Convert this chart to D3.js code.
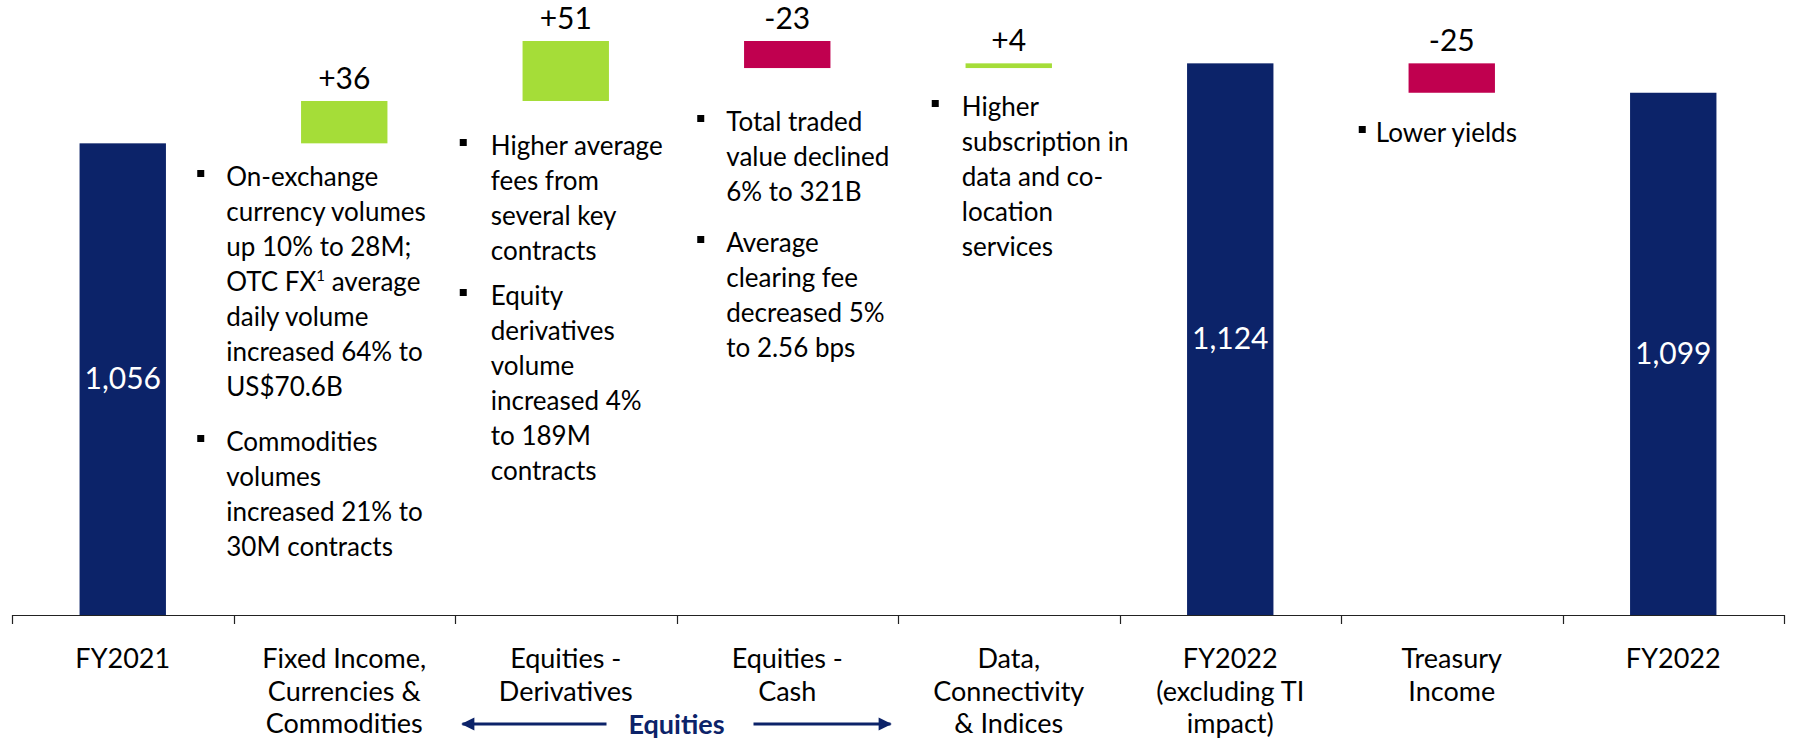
<!DOCTYPE html>
<html>
<head>
<meta charset="utf-8">
<script src="https://cdn.jsdelivr.net/npm/d3@7"></script>
<style>
  html, body { margin: 0; padding: 0; background: #fff; }
  svg { display: block; font-family: Lato, "Open Sans", sans-serif; }
</style>
</head>
<body>
<svg id="chart"></svg>
<script>
// data
const categories = ["FY2021", "Fixed Income, Currencies & Commodities", "Equities - Derivatives",
  "Equities - Cash", "Data, Connectivity & Indices", "FY2022 (excluding TI impact)", "Treasury Income", "FY2022"];
const categoryLines = [
  ["FY2021"],
  ["Fixed Income,", "Currencies &", "Commodities"],
  ["Equities -", "Derivatives"],
  ["Equities -", "Cash"],
  ["Data,", "Connectivity", "& Indices"],
  ["FY2022", "(excluding TI", "impact)"],
  ["Treasury", "Income"],
  ["FY2022"]
];
const values = [1056, 36, 51, -23, 4, 1124, -25, 1099];
const isTotal = [true, false, false, false, false, true, false, true];
const valueLabels = ["1,056", "+36", "+51", "-23", "+4", "1,124", "-25", "1,099"];

// bullet notes, per category index
const notes = [
  { cat: 1, paras: [
    ["On-exchange", "currency volumes", "up 10% to 28M;", "OTC FX|1| average", "daily volume", "increased 64% to", "US$70.6B"],
    ["Commodities", "volumes", "increased 21% to", "30M contracts"]] },
  { cat: 2, paras: [
    ["Higher average", "fees from", "several key", "contracts"],
    ["Equity", "derivatives", "volume", "increased 4%", "to 189M", "contracts"]] },
  { cat: 3, paras: [
    ["Total traded", "value declined", "6% to 321B"],
    ["Average", "clearing fee", "decreased 5%", "to 2.56 bps"]] },
  { cat: 4, paras: [
    ["Higher", "subscription in", "data and co-", "location", "services"]] },
  { cat: 6, paras: [
    ["Lower yields"]] }
];
const groupLabel = "Equities";

// layout
const W = 1793, H = 740;
const navy = "#0c2369", green = "#a5dd38", red = "#c0004f";
const baseY = 615;
const noteFont = 26, noteLine = 35;
// note layout: text offset from band centre, bullet gap, centre y of each paragraph's first line
const noteLayout = [
  { dx: -118, bullet: 29, ys: [177, 442] },
  { dx: -75, bullet: 31, ys: [146, 296] },
  { dx: -61, bullet: 29, ys: [122, 243] },
  { dx: -47, bullet: 30, ys: [107] },
  { dx: -76, bullet: 17, ys: [133] }
];

const svg = d3.select("#chart").attr("width", W).attr("height", H);

const x = d3.scaleBand().domain(categories).range([12, 1784]).paddingInner(0.61).paddingOuter(0.305);
const y = d3.scaleLinear().domain([655, 1143]).range([baseY, 41]);
const cx = i => x(categories[i]) + x.bandwidth() / 2;

// waterfall steps
let running = 0;
const bars = values.map((v, i) => {
  let lo, hi;
  if (isTotal[i]) { lo = y.domain()[0]; hi = v; running = v; }
  else { const start = running; running += v; lo = Math.min(start, running); hi = Math.max(start, running); }
  return { i, v, lo, hi, total: isTotal[i] };
});

svg.append("g").selectAll("rect")
  .data(bars)
  .join("rect")
    .attr("x", d => x(categories[d.i]))
    .attr("width", x.bandwidth())
    .attr("y", d => y(d.hi))
    .attr("height", d => y(d.lo) - y(d.hi))
    .attr("fill", d => d.total ? navy : (d.v >= 0 ? green : red));

// value labels
svg.append("g").selectAll("text")
  .data(bars)
  .join("text")
    .attr("x", d => cx(d.i))
    .attr("y", d => d.total ? (y(d.hi) + y(d.lo)) / 2 + 10 : y(d.hi) - 12)
    .attr("text-anchor", "middle")
    .attr("font-size", 30)
    .attr("fill", d => d.total ? "#fff" : "#000")
    .text(d => valueLabels[d.i]);

// axis
const axis = svg.append("g").attr("stroke", "#222").attr("stroke-width", 1.2);
axis.append("line").attr("x1", x.range()[0]).attr("x2", x.range()[1]).attr("y1", baseY + 0.5).attr("y2", baseY + 0.5);
d3.range(categories.length + 1).forEach(k => {
  const tx = Math.round(x.range()[0] + k * x.step()) + 0.5;
  axis.append("line").attr("x1", tx).attr("x2", tx).attr("y1", baseY).attr("y2", baseY + 9);
});

// category labels
const catG = svg.append("g").attr("font-size", 27).attr("fill", "#000").attr("text-anchor", "middle");
categoryLines.forEach((lines, i) => {
  lines.forEach((ln, j) => {
    catG.append("text").attr("x", cx(i)).attr("y", 668 + j * 32.5).text(ln);
  });
});

// Equities group arrow
const mid = (cx(2) + cx(3)) / 2;
svg.append("defs").append("marker")
  .attr("id", "head").attr("viewBox", "0 0 10 10").attr("refX", 9).attr("refY", 5)
  .attr("markerWidth", 5).attr("markerHeight", 4.4).attr("markerUnits", "strokeWidth").attr("orient", "auto")
  .append("path").attr("d", "M0,0L10,5L0,10z").attr("fill", navy);
const arrowY = 724;
svg.append("line").attr("x1", mid - 70).attr("x2", mid - 214).attr("y1", arrowY).attr("y2", arrowY)
  .attr("stroke", navy).attr("stroke-width", 3).attr("marker-end", "url(#head)");
svg.append("line").attr("x1", mid + 77).attr("x2", mid + 214).attr("y1", arrowY).attr("y2", arrowY)
  .attr("stroke", navy).attr("stroke-width", 3).attr("marker-end", "url(#head)");
svg.append("text").attr("x", mid).attr("y", arrowY + 10).attr("text-anchor", "middle")
  .attr("font-size", 27).attr("font-weight", "bold").attr("fill", navy).text(groupLabel);

// bullet notes
const noteG = svg.append("g").attr("font-size", noteFont).attr("fill", "#000");
notes.forEach((n, k) => {
  const lay = noteLayout[k];
  const tx = cx(n.cat) + lay.dx;
  n.paras.forEach((para, p) => {
    const y0 = lay.ys[p];
    noteG.append("rect").attr("x", tx - lay.bullet).attr("y", y0 - 7).attr("width", 7).attr("height", 7);
    para.forEach((ln, j) => {
      const t = noteG.append("text").attr("x", tx).attr("y", y0 + j * noteLine + 9);
      const parts = ln.split("|");
      if (parts.length === 3) {
        t.append("tspan").text(parts[0]);
        t.append("tspan").attr("font-size", 15).attr("dy", -10).text(parts[1]);
        t.append("tspan").attr("dy", 10).text(parts[2]);
      } else {
        t.text(ln);
      }
    });
  });
});
</script>
</body>
</html>
